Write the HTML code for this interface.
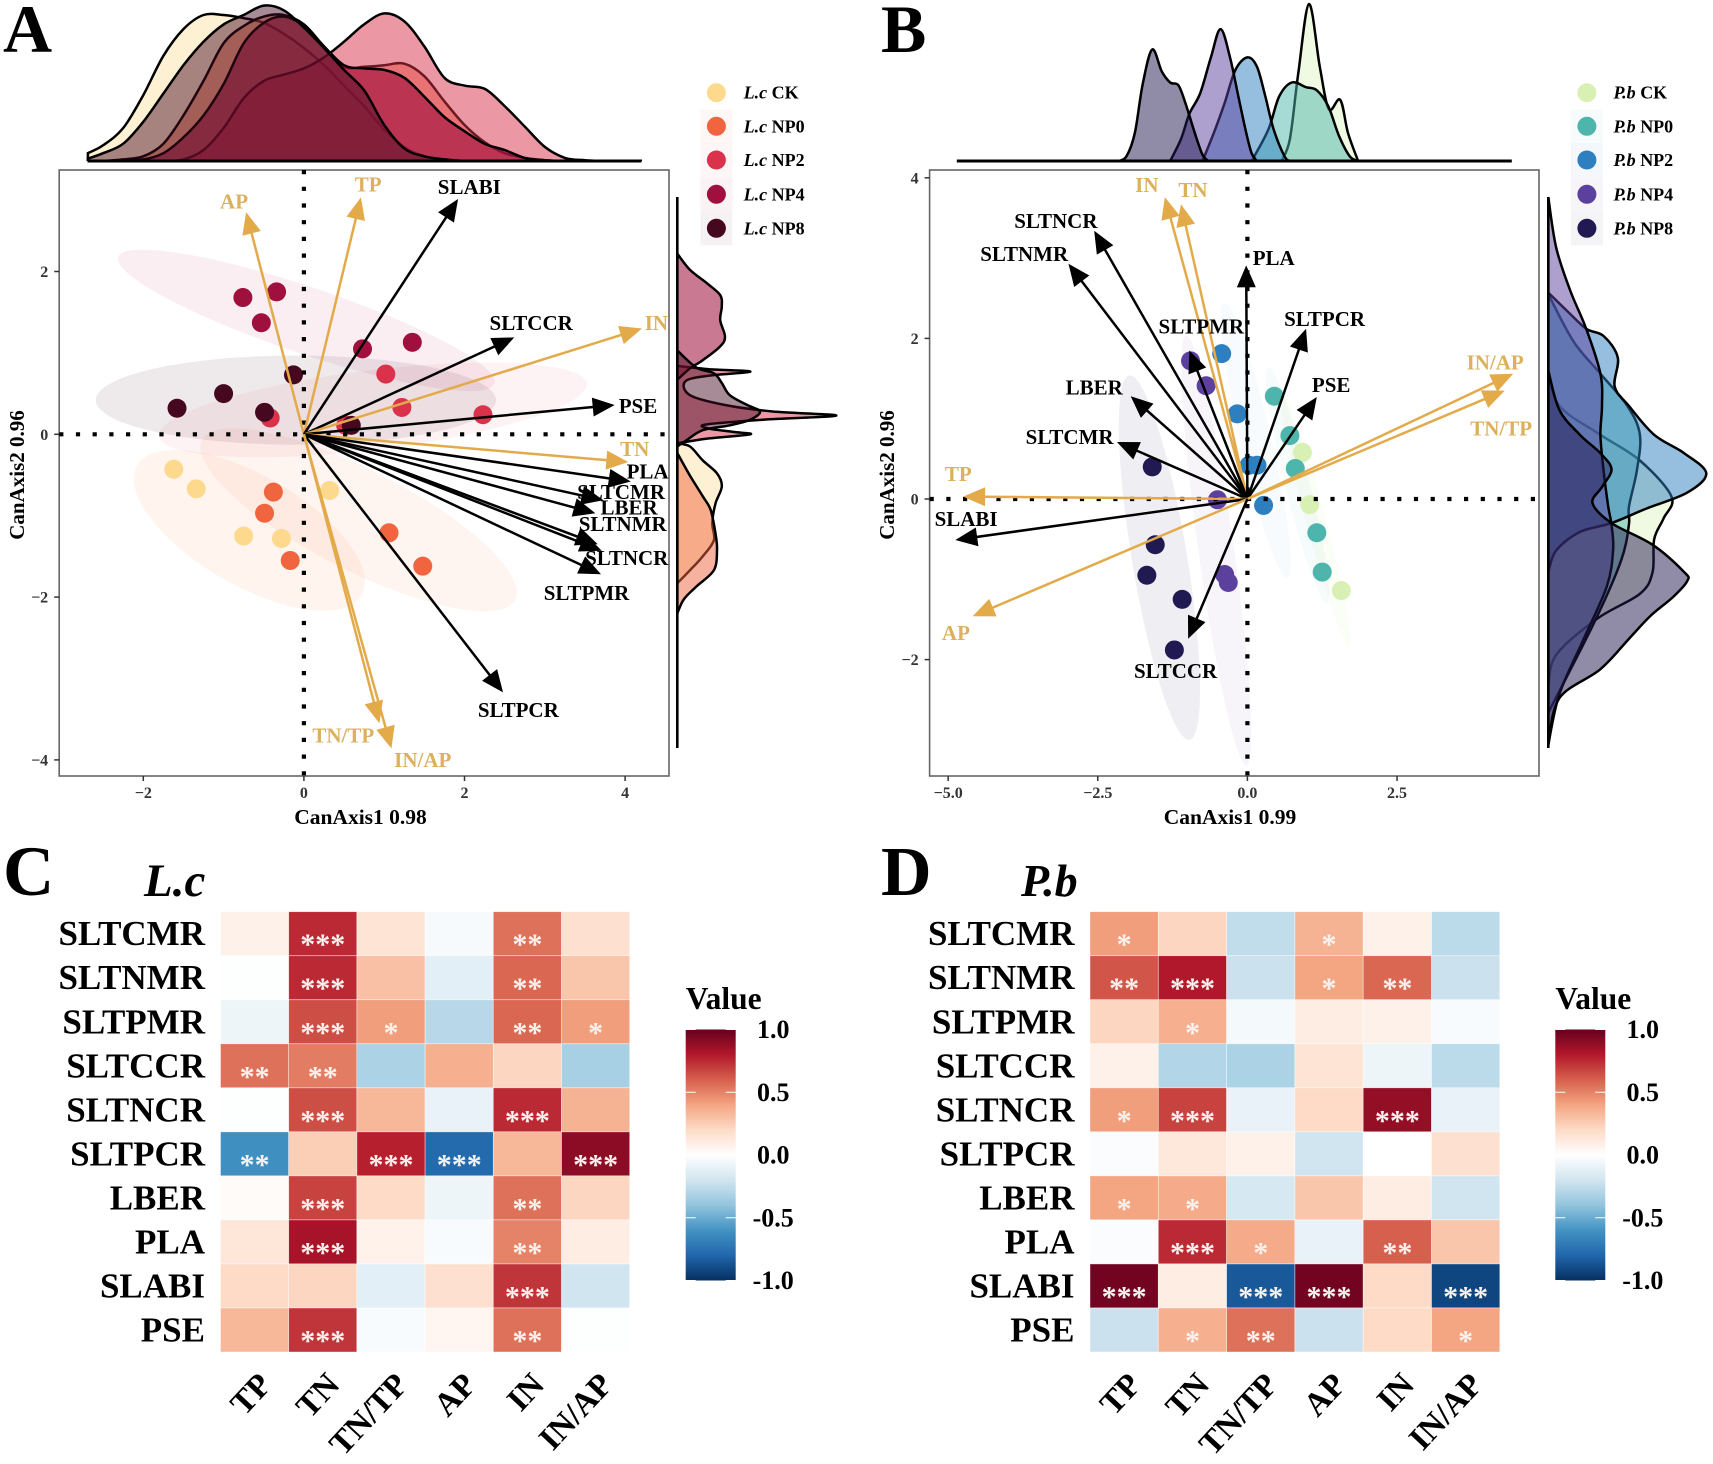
<!DOCTYPE html>
<html lang="en">
<head>
<meta charset="utf-8">
<title>Canonical biplots and correlation heatmaps for L.c and P.b</title>
<style>
html,body{margin:0;padding:0;background:#fff;}
svg{display:block;font-family:"Liberation Serif",serif;}
</style>
</head>
<body>
<svg id="fig" xmlns="http://www.w3.org/2000/svg" width="1713" height="1464" viewBox="0 0 1713 1464">
  <defs>
    <clipPath id="clip-top-a"><rect x="80" y="0" width="580" height="161"/></clipPath>
    <clipPath id="clip-top-b"><rect x="950" y="0" width="580" height="161"/></clipPath>
    <clipPath id="clip-right-a"><rect x="677.3" y="190" width="170" height="565"/></clipPath>
    <clipPath id="clip-right-b"><rect x="1548.3" y="190" width="164" height="565"/></clipPath>
    <linearGradient id="bar-gradient" x1="0" y1="0" x2="0" y2="1">
      <stop offset="0" stop-color="#67001f"/><stop offset="0.1" stop-color="#b2182b"/>
      <stop offset="0.2" stop-color="#d6604d"/><stop offset="0.3" stop-color="#f4a582"/>
      <stop offset="0.4" stop-color="#fddbc7"/><stop offset="0.5" stop-color="#ffffff"/>
      <stop offset="0.6" stop-color="#d1e5f0"/><stop offset="0.7" stop-color="#92c5de"/>
      <stop offset="0.8" stop-color="#4393c3"/><stop offset="0.9" stop-color="#2166ac"/>
      <stop offset="1" stop-color="#053061"/>
    </linearGradient>
  </defs>

  <text x="3" y="52" font-size="68" font-weight="bold">A</text>
  <text x="881" y="52" font-size="68" font-weight="bold">B</text>
  <text x="3" y="895" font-size="71" font-weight="bold">C</text>
  <text x="881" y="895" font-size="70" font-weight="bold">D</text>
  <text x="144" y="896" font-size="47" font-weight="bold" font-style="italic">L.c</text>
  <text x="1021" y="896" font-size="46" font-weight="bold" font-style="italic">P.b</text>

  <g id="panel-a"></g>
  <g id="panel-b"></g>

  <text x="360.5" y="824" font-size="21.5" font-weight="bold" text-anchor="middle">CanAxis1 0.98</text>
  <text transform="translate(24,475) rotate(-90)" font-size="21" font-weight="bold" text-anchor="middle">CanAxis2 0.96</text>
  <text x="1230" y="824" font-size="21.5" font-weight="bold" text-anchor="middle">CanAxis1 0.99</text>
  <text transform="translate(894,475) rotate(-90)" font-size="21" font-weight="bold" text-anchor="middle">CanAxis2 0.96</text>

  <g id="heat-c"></g>
  <g id="heat-d"></g>
</svg>

<script>
/* ---------- shared categories ---------- */
const groupNames = ['CK','NP0','NP2','NP4','NP8'];
const colorsA = ['#fdd98e','#f0653f','#d9324a','#a0103f','#45081f'];
const colorsB = ['#d9f0b4','#4db5ac','#2d7fc0','#5b409e','#211a52'];
const ellipseColorsA = ['#fba860','#f0793f','#d9324a','#b81050','#45081f'];
const densityAlphaA = [0.4,0.5,0.5,0.62,0.47];
const rightAlphaA = [0.4,0.5,0.5,0.56,0.47];
const densityAlphaB = [0.4,0.5,0.5,0.5,0.5];
const ellipseAlphaA = [0.11,0.08,0.06,0.07,0.09];
const ellipseAlphaB = [0.1,0.05,0.03,0.05,0.07];

/* ---------- panel A: axis ticks ---------- */
const xTicksA = [-2,0,2,4];
const yTicksA = [2,0,-2,-4];

/* ---------- panel A: scores per group ---------- */
const ptsA_CK_x  = [-1.62,-1.34,-0.75,-0.28,0.32];
const ptsA_CK_y  = [-0.43,-0.67,-1.25,-1.28,-0.69];
const ptsA_NP0_x = [-0.38,-0.49,-0.17,1.06,1.48];
const ptsA_NP0_y = [-0.71,-0.97,-1.55,-1.21,-1.62];
const ptsA_NP2_x = [1.02,1.22,2.23,0.52,-0.42];
const ptsA_NP2_y = [0.74,0.33,0.24,0.11,0.2];
const ptsA_NP4_x = [-0.76,-0.34,-0.53,0.73,1.35];
const ptsA_NP4_y = [1.68,1.75,1.37,1.05,1.13];
const ptsA_NP8_x = [-1.58,-1.0,-0.49,-0.13,0.59];
const ptsA_NP8_y = [0.32,0.5,0.27,0.73,0.11];

/* ---------- panel A: group ellipses (centre, semi-axes, tilt) ---------- */
const ellA_cx = [-0.68,0.68,0.86,0.03,-0.1];
const ellA_cy = [-1.18,-1.05,0.3,1.4,0.42];
const ellA_a  = [1.6,2.17,2.66,2.45,2.47];
const ellA_b  = [0.68,0.62,0.49,0.41,0.55];
const ellA_t  = [30,27,-7,18.6,0];

/* ---------- panel A: loading arrows ---------- */
const arrowA_names = ['AP','TP','SLABI','SLTCCR','IN','PSE','TN','PLA','SLTCMR','LBER','SLTNMR','SLTNCR','SLTPMR','SLTPCR','TN/TP','IN/AP'];
const arrowA_x = [-0.72,0.71,1.92,2.62,4.21,3.87,4.04,4.07,3.73,3.63,3.66,3.71,3.70,2.48,0.94,1.09];
const arrowA_y = [2.73,2.91,2.89,1.19,1.30,0.36,-0.34,-0.58,-0.81,-0.97,-1.35,-1.43,-1.72,-3.17,-3.55,-3.86];
const arrowA_nutrient = [1,1,0,0,1,0,1,0,0,0,0,0,0,0,1,1];
const labelA_x = [-0.87,0.80,2.06,2.83,4.39,4.16,4.12,4.28,3.95,4.05,3.97,4.02,3.52,2.67,0.49,1.48];
const labelA_y = [2.86,3.07,3.04,1.37,1.37,0.35,-0.18,-0.46,-0.71,-0.90,-1.10,-1.52,-1.95,-3.39,-3.70,-4.00];

/* ---------- panel A: top marginal density ---------- */
const topA_grid = [-2.69,-2.5,-2.25,-2,-1.75,-1.5,-1.25,-1,-0.75,-0.5,-0.25,0,0.25,0.5,0.75,1,1.25,1.5,1.75,2,2.25,2.5,2.75,3,3.25,3.5,3.75,4,4.21];
const topA_CK  = [.05,.10,.21,.42,.67,.84,.93,.93,.91,.88,.81,.72,.61,.48,.35,.20,.09,.03,.01,0,0,0,0,0,0,0,0,0,0];
const topA_NP0 = [0,0,.01,.03,.11,.29,.51,.75,.86,.92,.93,.87,.73,.60,.60,.61,.62,.54,.38,.23,.12,.05,.02,.005,0,0,0,0,0];
const topA_NP2 = [0,0,0,0,0,.01,.07,.21,.40,.51,.55,.59,.66,.76,.87,.94,.89,.73,.53,.48,.46,.35,.22,.09,.02,.005,0,0,0];
const topA_NP4 = [0,0,0,.01,.05,.15,.29,.49,.75,.88,.92,.86,.73,.61,.59,.58,.53,.41,.28,.19,.11,.07,.02,.005,0,0,0,0,0];
const topA_NP8 = [.015,.05,.11,.25,.43,.61,.76,.87,.93,.99,.96,.85,.72,.58,.45,.23,.08,.03,.01,0,0,0,0,0,0,0,0,0,0];

/* ---------- panel A: right marginal density ---------- */
const rightA_CK_y  = [-0.11,-0.15,-0.32,-0.48,-0.64,-0.85,-1.09,-1.30,-1.50,-1.67,-1.83];
const rightA_CK_d  = [0,.08,.16,.25,.28,.24,.22,.23,.16,.08,0];
const rightA_NP0_y = [-0.23,-0.51,-0.76,-0.93,-1.22,-1.42,-1.67,-1.87,-2.03,-2.2];
const rightA_NP0_d = [0,.08,.16,.21,.24,.25,.23,.12,.04,0];
const rightA_NP2_y = [0.84,0.8,0.77,0.72,0.65,0.48,0.36,0.28,0.23,0.18,0.12,0.07,0.03,0,-0.05,-0.11];
const rightA_NP2_d = [0,.2,.46,.2,.05,.08,.3,.6,1,.55,.18,.2,.35,.46,.2,0];
const rightA_NP4_y = [2.22,2.02,1.85,1.71,1.57,1.40,1.20,1.08,0.91,0.81,0.67];
const rightA_NP4_d = [0,.08,.19,.27,.28,.27,.30,.27,.16,.08,0];
const rightA_NP8_y = [1.03,0.82,0.75,0.63,0.48,0.36,0.28,0.18,0.11,0.05,-0.07,-0.15];
const rightA_NP8_d = [0,.12,.23,.28,.33,.44,.52,.46,.33,.16,.06,0];

/* ---------- panel B: axis ticks ---------- */
const xTicksB = [-5,-2.5,0,2.5];
const yTicksB = [4,2,0,-2];

/* ---------- panel B: scores per group ---------- */
const ptsB_CK_x  = [0.92,1.04,1.57];
const ptsB_CK_y  = [0.58,-0.07,-1.14];
const ptsB_NP0_x = [0.45,0.71,0.8,1.16,1.25];
const ptsB_NP0_y = [1.28,0.79,0.38,-0.42,-0.91];
const ptsB_NP2_x = [-0.43,-0.17,0.03,0.16,0.27];
const ptsB_NP2_y = [1.81,1.06,0.42,0.42,-0.08];
const ptsB_NP4_x = [-0.95,-0.69,-0.5,-0.38,-0.32];
const ptsB_NP4_y = [1.72,1.41,-0.01,-0.94,-1.04];
const ptsB_NP8_x = [-1.59,-1.54,-1.68,-1.09,-1.22];
const ptsB_NP8_y = [0.40,-0.57,-0.95,-1.25,-1.88];

/* ---------- panel B: group ellipses ---------- */
const ellB_cx = [1.14,0.84,0.14,-0.52,-1.47];
const ellB_cy = [-0.26,0.17,0.73,-0.64,-0.73];
const ellB_a  = [1.62,1.5,1.74,2.68,2.28];
const ellB_b  = [0.12,0.15,0.19,0.22,0.34];
const ellB_t  = [75,76,77,82,80.6];

/* ---------- panel B: loading arrows ---------- */
const arrowB_names = ['IN','TN','SLTNCR','SLTNMR','PLA','SLTPMR','SLTPCR','LBER','PSE','IN/AP','TN/TP','SLTCMR','TP','SLABI','AP','SLTCCR'];
const arrowB_x = [-1.38,-1.11,-2.56,-2.99,-0.02,-0.97,0.98,-1.95,1.16,4.44,4.30,-2.18,-4.75,-4.88,-4.59,-0.99];
const arrowB_y = [3.76,3.67,3.34,2.93,2.91,1.85,2.12,1.28,1.27,1.56,1.35,0.71,0.03,-0.51,-1.46,-1.74];
const arrowB_nutrient = [1,1,0,0,0,0,0,0,0,1,1,0,1,0,1,0];
const labelB_x = [-1.68,-0.91,-3.2,-3.73,0.44,-0.77,1.29,-2.56,1.4,4.14,4.24,-2.97,-4.83,-4.7,-4.87,-1.2];
const labelB_y = [3.91,3.85,3.46,3.05,3.0,2.15,2.24,1.39,1.42,1.7,0.88,0.77,0.31,-0.25,-1.67,-2.14];

/* ---------- panel B: top marginal density ---------- */
const topB_CK_x  = [0.57,0.71,0.85,1.03,1.21,1.36,1.55,1.68,1.85];
const topB_CK_d  = [0,.14,.56,1,.6,.33,.39,.18,0];
const topB_NP0_x = [0.07,0.35,0.53,0.74,0.98,1.16,1.35,1.53,1.71,1.85];
const topB_NP0_d = [0,.2,.41,.5,.47,.45,.35,.16,.03,0];
const topB_NP2_x = [-0.75,-0.56,-0.38,-0.2,0,0.16,0.3,0.44,0.62,0.71];
const topB_NP2_d = [0,.18,.37,.58,.66,.6,.41,.2,.03,0];
const topB_NP4_x = [-1.29,-1.11,-0.97,-0.79,-0.61,-0.45,-0.29,-0.15,-0.02,0.07,0.16];
const topB_NP4_d = [0,.14,.3,.43,.66,.84,.66,.41,.18,.05,0];
const topB_NP8_x = [-2.15,-2.02,-1.88,-1.75,-1.59,-1.43,-1.29,-1.15,-1.02,-0.88,-0.75,-0.65];
const topB_NP8_d = [0,.03,.18,.49,.71,.57,.5,.48,.35,.18,.04,0];

/* ---------- panel B: right marginal density ---------- */
const rightB_CK_y  = [1.60,1.16,0.80,0.48,0.03,-0.24,-0.50,-0.91,-1.18,-1.49,-1.94,-2.34];
const rightB_CK_d  = [0,.07,.33,.58,.78,.73,.67,.66,.58,.31,.05,0];
const rightB_NP0_y = [2.55,1.96,1.56,1.16,0.80,0.35,-0.10,-0.32,-0.77,-1.54,-2.66];
const rightB_NP0_d = [0,.16,.33,.50,.58,.56,.51,.51,.46,.29,0];
const rightB_NP2_y = [2.57,2.34,2.12,2.03,1.76,1.40,1.16,0.80,0.57,0.32,0.08,-0.12,-0.30,-0.41,-0.64,-0.91];
const rightB_NP2_d = [0,.12,.24,.35,.44,.42,.51,.67,.86,1,.88,.62,.40,.20,.05,0];
const rightB_NP4_y = [3.76,3.13,2.59,2.12,1.56,1.16,0.80,0.35,-0.10,-0.32,-0.64,-1.09,-1.76,-2.43,-3.06];
const rightB_NP4_d = [0,.05,.14,.24,.33,.34,.33,.35,.38,.40,.41,.37,.22,.07,0];
const rightB_NP8_y = [1.60,1.11,0.80,0.57,0.37,0.15,-0.05,-0.30,-0.57,-0.91,-1.02,-1.22,-1.45,-1.72,-2.12,-2.48,-3.06];
const rightB_NP8_d = [0,.07,.2,.33,.40,.34,.28,.40,.66,.86,.88,.79,.65,.52,.33,.07,0];

/* ---------- heatmaps ---------- */
const rowLabels = ['SLTCMR','SLTNMR','SLTPMR','SLTCCR','SLTNCR','SLTPCR','LBER','PLA','SLABI','PSE'];
const colLabels = ['TP','TN','TN/TP','AP','IN','IN/AP'];
const barTicks = [1,0.5,0,-0.5,-1];
const heatC = [
  [.08,.75,.15,-.04,.55,.17],
  [-.01,.75,.3,-.12,.58,.28],
  [-.08,.65,.42,-.28,.58,.42],
  [.55,.52,-.32,.36,.22,-.33],
  [-.01,.65,.33,-.1,.75,.35],
  [-.62,.25,.78,-.78,.33,.9],
  [.02,.68,.2,-.08,.55,.22],
  [.14,.83,.07,-.03,.5,.1],
  [.2,.22,-.12,.17,.72,-.2],
  [.33,.72,-.03,.05,.55,-.01]
];
const starsC = [
  ['','***','','','**',''],
  ['','***','','','**',''],
  ['','***','*','','**','*'],
  ['**','**','','','',''],
  ['','***','','','***',''],
  ['**','','***','***','','***'],
  ['','***','','','**',''],
  ['','***','','','**',''],
  ['','','','','***',''],
  ['','***','','','**','']
];
const heatD = [
  [.42,.22,-.25,.35,.08,-.27],
  [.63,.8,-.22,.4,.58,-.22],
  [.22,.36,-.05,.1,.08,-.03],
  [.08,-.3,-.32,.15,-.08,-.27],
  [.42,.68,-.1,.2,.88,-.1],
  [-.02,.13,.08,-.2,0,.17],
  [.4,.38,-.18,.28,.1,-.2],
  [-.02,.75,.38,-.1,.6,.28],
  [.97,.1,-.85,.97,.2,-.92],
  [-.22,.36,.55,-.22,.2,.4]
];
const starsD = [
  ['*','','','*','',''],
  ['**','***','','*','**',''],
  ['','*','','','',''],
  ['','','','','',''],
  ['*','***','','','***',''],
  ['','','','','',''],
  ['*','*','','','',''],
  ['','***','*','','**',''],
  ['***','','***','***','','***'],
  ['','*','**','','','*']
];
const rdbuStops = ['#053061','#2166ac','#4393c3','#92c5de','#d1e5f0','#ffffff','#fddbc7','#f4a582','#d6604d','#b2182b','#67001f'];

/* ---------- helpers ---------- */
const NS = 'http://www.w3.org/2000/svg';
function mk(tag, attrs, parent) {
  const el = document.createElementNS(NS, tag);
  for (const k in attrs) el.setAttribute(k, attrs[k]);
  parent.appendChild(el);
  return el;
}
function smooth(pts) {
  let d = '';
  for (let i = 0; i < pts.length - 1; i++) {
    const p0 = pts[Math.max(i-1,0)], p1 = pts[i], p2 = pts[i+1], p3 = pts[Math.min(i+2,pts.length-1)];
    const c1x = p1[0] + (p2[0]-p0[0])/6, c1y = p1[1] + (p2[1]-p0[1])/6;
    const c2x = p2[0] - (p3[0]-p1[0])/6, c2y = p2[1] - (p3[1]-p1[1])/6;
    d += 'C' + c1x.toFixed(1) + ' ' + c1y.toFixed(1) + ' ' + c2x.toFixed(1) + ' ' + c2y.toFixed(1) + ' ' + p2[0].toFixed(1) + ' ' + p2[1].toFixed(1);
  }
  return d;
}
function hexRgb(h) { return [1,3,5].map(i => parseInt(h.substr(i,2),16)); }
function valueColor(v) {
  const t = Math.max(0, Math.min(1, (v+1)/2)) * (rdbuStops.length-1);
  const i = Math.min(Math.floor(t), rdbuStops.length-2), f = t-i;
  const a = hexRgb(rdbuStops[i]), b = hexRgb(rdbuStops[i+1]);
  return 'rgb(' + a.map((c,j) => Math.round(c+(b[j]-c)*f)).join(',') + ')';
}
function fmtTick(v, decimals) {
  const s = Math.abs(v).toFixed(decimals);
  return v < 0 ? '\u2212' + s : s;
}

/* ---------- biplot panel ---------- */
function drawBiplot(root, c) {
  const X = c.x, Y = c.y;
  // ellipses
  for (let i = 0; i < c.ellCx.length; i++) {
    const el = mk('ellipse', {
      cx: X(c.ellCx[i]), cy: Y(c.ellCy[i]),
      rx: c.ellA[i]*81, ry: c.ellB[i]*81,
      transform: 'rotate(' + c.ellT[i] + ' ' + X(c.ellCx[i]) + ' ' + Y(c.ellCy[i]) + ')',
      fill: c.ellColors[i], 'fill-opacity': c.ellAlpha[i]
    }, root);
    
    
  }
  // frame
  const frame = mk('rect', {x:c.frame[0], y:c.frame[1], width:c.frame[2]-c.frame[0], height:c.frame[3]-c.frame[1], fill:'none', stroke:'#666', 'stroke-width':1.6}, root);
  
  
  // points
  for (let g = 0; g < c.ptsX.length; g++) {
    for (let i = 0; i < c.ptsX[g].length; i++) {
      const p = mk('circle', {cx:X(c.ptsX[g][i]), cy:Y(c.ptsY[g][i]), r:9.5, fill:c.colors[g]}, root);
      
      
    }
  }
  // dotted zero lines
  const h0 = mk('line', {x1:c.frame[0], x2:c.frame[2], y1:Y(0), y2:Y(0), stroke:'#000', 'stroke-width':4.2, 'stroke-dasharray':'4.2 12.5'}, root);
  
  
  const v0 = mk('line', {x1:X(0), x2:X(0), y1:c.frame[1], y2:c.frame[3], stroke:'#000', 'stroke-width':4.2, 'stroke-dasharray':'4.2 12.5'}, root);
  
  
  // ticks
  c.xTicks.forEach(v => {
    const t = mk('line', {x1:X(v), x2:X(v), y1:c.frame[3], y2:c.frame[3]+5, stroke:'#333', 'stroke-width':1.5}, root);
    
    
    const l = mk('text', {x:X(v), y:c.frame[3]+22, 'text-anchor':'middle', 'font-size':16, 'font-weight':'bold', fill:'#333'}, root);
    l.textContent = fmtTick(v, c.xDecimals);
    
    
  });
  c.yTicks.forEach(v => {
    const t = mk('line', {x1:c.frame[0]-5, x2:c.frame[0], y1:Y(v), y2:Y(v), stroke:'#333', 'stroke-width':1.5}, root);
    
    
    const l = mk('text', {x:c.frame[0]-11, y:Y(v)+5.5, 'text-anchor':'end', 'font-size':16, 'font-weight':'bold', fill:'#333'}, root);
    l.textContent = fmtTick(v, 0);
    
    
  });
  // arrows
  c.arrowNames.forEach((name, i) => {
    const tx = X(c.arrowX[i]), ty = Y(c.arrowY[i]), ox = X(0), oy = Y(0);
    const len = Math.hypot(tx-ox, ty-oy), ux = (tx-ox)/len, uy = (ty-oy)/len;
    const col = c.arrowNutrient[i] ? '#e3aa4a' : '#000';
    const hl = 22, hw = 9.5;
    const ln = mk('line', {x1:ox, y1:oy, x2:tx-ux*hl*0.8, y2:ty-uy*hl*0.8, stroke:col, 'stroke-width':2.5}, root);
    
    
    const bx = tx-ux*hl, by = ty-uy*hl;
    const head = mk('polygon', {points: tx+','+ty+' '+(bx-uy*hw)+','+(by+ux*hw)+' '+(bx+uy*hw)+','+(by-ux*hw), fill:col}, root);
    
    
  });
  c.arrowNames.forEach((name, i) => {
    const col = c.arrowNutrient[i] ? '#dcb05c' : '#000';
    const lb = mk('text', {x:X(c.labelX[i]), y:Y(c.labelY[i])+7, 'text-anchor':'middle', 'font-size':21, 'font-weight':'bold', fill:col}, root);
    lb.textContent = name;
    
    
  });
  // top density
  const topG = mk('g', {'clip-path':'url(#' + c.topClip + ')'}, root);
  
  
  c.topX.forEach((xs, g) => {
    const pts = xs.map((x,i) => [X(x), c.topBase - c.topD[g][i]*c.topScale]);
    const d = 'M' + pts[0][0] + ' ' + c.topBase + 'L' + pts[0][0] + ' ' + pts[0][1] + smooth(pts) + 'L' + pts[pts.length-1][0] + ' ' + c.topBase + 'Z';
    const a = mk('path', {d:d, fill:c.colors[g], 'fill-opacity':c.densAlpha[g], stroke:'#000', 'stroke-width':2.5}, topG);
    
    
  });
  const bl = mk('line', {x1:c.topLine[0], x2:c.topLine[1], y1:c.topBase, y2:c.topBase, stroke:'#000', 'stroke-width':3}, root);
  
  
  // right density
  const rightG = mk('g', {'clip-path':'url(#' + c.rightClip + ')'}, root);
  
  
  c.rightY.forEach((ys, g) => {
    const pts = ys.map((y,i) => [c.rightBase + c.rightD[g][i]*c.rightScale, Y(y)]);
    const d = 'M' + c.rightBase + ' ' + pts[0][1] + 'L' + pts[0][0] + ' ' + pts[0][1] + smooth(pts) + 'L' + c.rightBase + ' ' + pts[pts.length-1][1] + 'Z';
    const a = mk('path', {d:d, fill:c.colors[g], 'fill-opacity':c.rightAlpha[g], stroke:'#000', 'stroke-width':2.5}, rightG);
    
    
  });
  const rl = mk('line', {x1:c.rightBase, x2:c.rightBase, y1:197, y2:748, stroke:'#000', 'stroke-width':2.6}, root);
  
  
  // legend
  const legendY = [92.7,126.3,160,194.3,228.3];
  groupNames.forEach((gn, i) => {
    if (i > 0) {
      const key = mk('rect', {x:c.legendX-16, y:legendY[i]-17, width:32, height:34, fill:c.colors[i], 'fill-opacity':0.05}, root);
      
      
    }
    const dot = mk('circle', {cx:c.legendX, cy:legendY[i], r:9.5, fill:c.colors[i]}, root);
    
    
    const t = mk('text', {x:c.legendTextX, y:legendY[i]+6, 'font-size':18, 'font-weight':'bold'}, root);
    
    
    const sp = mk('tspan', {'font-style':'italic'}, t);
    sp.textContent = c.species;
    t.appendChild(document.createTextNode(' ' + gn));
  });
}

const xA = v => 303.9 + 80.3*v;
const yA = v => 434.3 - 81.4*v;
const xB = v => 1247.4 + 59.85*v;
const yB = v => 499 - 80.3*v;

drawBiplot(document.getElementById('panel-a'), {
  x:xA, y:yA, frame:[59.2,170,669,776], colors:colorsA, species:'L.c',
  densAlpha:densityAlphaA, rightAlpha:rightAlphaA, ellAlpha:ellipseAlphaA, ellColors:ellipseColorsA,
  ellCx:ellA_cx, ellCy:ellA_cy, ellA:ellA_a, ellB:ellA_b, ellT:ellA_t,
  ptsX:[ptsA_CK_x,ptsA_NP0_x,ptsA_NP2_x,ptsA_NP4_x,ptsA_NP8_x],
  ptsY:[ptsA_CK_y,ptsA_NP0_y,ptsA_NP2_y,ptsA_NP4_y,ptsA_NP8_y],
  xTicks:xTicksA, yTicks:yTicksA, xDecimals:0,
  arrowNames:arrowA_names, arrowX:arrowA_x, arrowY:arrowA_y, arrowNutrient:arrowA_nutrient,
  labelX:labelA_x, labelY:labelA_y,
  topClip:'clip-top-a', topBase:161, topScale:157, topLine:[87.5,641.5],
  topX:[topA_grid,topA_grid,topA_grid,topA_grid,topA_grid],
  topD:[topA_CK,topA_NP0,topA_NP2,topA_NP4,topA_NP8],
  rightClip:'clip-right-a', rightBase:677.3, rightScale:159,
  rightY:[rightA_CK_y,rightA_NP0_y,rightA_NP2_y,rightA_NP4_y,rightA_NP8_y],
  rightD:[rightA_CK_d,rightA_NP0_d,rightA_NP2_d,rightA_NP4_d,rightA_NP8_d],
  legendX:716.4, legendTextX:743.6
});
drawBiplot(document.getElementById('panel-b'), {
  x:xB, y:yB, frame:[929.6,170,1539,776], colors:colorsB, species:'P.b',
  densAlpha:densityAlphaB, rightAlpha:densityAlphaB, ellAlpha:ellipseAlphaB, ellColors:colorsB,
  ellCx:ellB_cx, ellCy:ellB_cy, ellA:ellB_a, ellB:ellB_b, ellT:ellB_t,
  ptsX:[ptsB_CK_x,ptsB_NP0_x,ptsB_NP2_x,ptsB_NP4_x,ptsB_NP8_x],
  ptsY:[ptsB_CK_y,ptsB_NP0_y,ptsB_NP2_y,ptsB_NP4_y,ptsB_NP8_y],
  xTicks:xTicksB, yTicks:yTicksB, xDecimals:1,
  arrowNames:arrowB_names, arrowX:arrowB_x, arrowY:arrowB_y, arrowNutrient:arrowB_nutrient,
  labelX:labelB_x, labelY:labelB_y,
  topClip:'clip-top-b', topBase:161, topScale:157, topLine:[956.8,1511.8],
  topX:[topB_CK_x,topB_NP0_x,topB_NP2_x,topB_NP4_x,topB_NP8_x],
  topD:[topB_CK_d,topB_NP0_d,topB_NP2_d,topB_NP4_d,topB_NP8_d],
  rightClip:'clip-right-b', rightBase:1548.3, rightScale:158,
  rightY:[rightB_CK_y,rightB_NP0_y,rightB_NP2_y,rightB_NP4_y,rightB_NP8_y],
  rightD:[rightB_CK_d,rightB_NP0_d,rightB_NP2_d,rightB_NP4_d,rightB_NP8_d],
  legendX:1586.9, legendTextX:1613.5
});

/* ---------- heatmap panel ---------- */
function drawHeat(root, c) {
  const cw = (c.right-c.left)/colLabels.length, ch = (c.bottom-c.top)/rowLabels.length;
  const cellX = i => c.left + i*cw;
  const cellY = j => c.top + j*ch;
  rowLabels.forEach((rn, j) => {
    const t = mk('text', {x:c.left-15.5, y:cellY(j)+ch/2+11.5, 'text-anchor':'end', 'font-size':35, 'font-weight':'bold'}, root);
    t.textContent = rn;
    
    
    colLabels.forEach((cn, i) => {
      const r = mk('rect', {x:cellX(i), y:cellY(j), width:cw, height:ch, fill:valueColor(c.values[j][i]), stroke:'#fff', 'stroke-width':0.7, 'stroke-opacity':0.6}, root);
      
      
      if (c.stars[j][i]) {
        const s = mk('text', {x:cellX(i)+cw/2, y:cellY(j)+ch/2+20.5, 'text-anchor':'middle', 'font-size':30, 'font-weight':'bold', fill:'#f8f2ee'}, root);
        s.textContent = c.stars[j][i];
        
        
      }
    });
  });
  colLabels.forEach((cn, i) => {
    const ex = cellX(i)+cw/2+18.5, ey = 1386;
    const t = mk('text', {transform:'translate(' + ex + ',' + ey + ') rotate(-47)', 'text-anchor':'end', 'font-size':33, 'font-weight':'bold'}, root);
    t.textContent = cn;
    
    
  });
  // colour bar
  const bar = mk('rect', {x:c.barX, y:1029.5, width:50, height:251, fill:'url(#bar-gradient)'}, root);
  
  
  const barY = v => 1155 - 125.5*v;
  barTicks.forEach(v => {
    const a = mk('line', {x1:c.barX, x2:c.barX+10, y1:barY(v), y2:barY(v), stroke:'#fff', 'stroke-width':1}, root);
    
    
    const b = mk('line', {x1:c.barX+40, x2:c.barX+50, y1:barY(v), y2:barY(v), stroke:'#fff', 'stroke-width':1}, root);
    
    
    const l = mk('text', {x:c.barX+87.5, y:barY(v)+8.5, 'text-anchor':'middle', 'font-size':26, 'font-weight':'bold'}, root);
    l.textContent = v.toFixed(1);
    
    
  });
  const vt = mk('text', {x:c.barX+38, y:1009, 'text-anchor':'middle', 'font-size':31.5, 'font-weight':'bold'}, root);
  vt.textContent = 'Value';
  
  
}
drawHeat(document.getElementById('heat-c'), {left:220.5,right:629.7,top:911.7,bottom:1352,values:heatC,stars:starsC,barX:685.7});
drawHeat(document.getElementById('heat-d'), {left:1090,right:1499.8,top:911.7,bottom:1352,values:heatD,stars:starsD,barX:1555.3});
</script>
</body>
</html>
